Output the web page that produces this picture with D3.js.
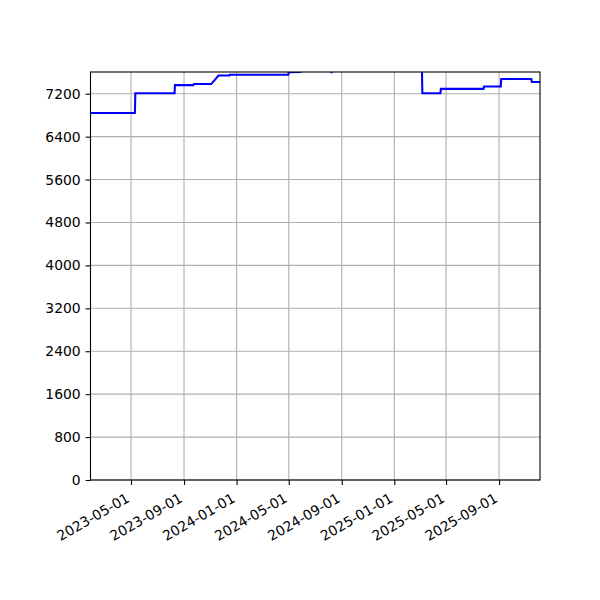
<!DOCTYPE html>
<html>
<head>
<meta charset="utf-8">
<script src="https://cdn.jsdelivr.net/npm/d3@7"></script>
<style>
  body { margin: 0; background: #fff; }
  text { font-family: "DejaVu Sans", sans-serif; }
</style>
</head>
<body>
<div id="chart"></div>
<script>
// daily series (only the change points)
var dates = ["2023-01-27", "2023-05-10", "2023-05-11", "2023-08-10", "2023-08-11",
  "2023-09-23", "2023-09-24", "2023-11-03", "2023-11-20", "2023-12-15", "2023-12-16",
  "2024-04-30", "2024-05-01", "2024-05-28", "2024-05-31", "2024-08-07", "2024-08-08",
  "2024-08-09", "2025-03-06", "2025-03-07", "2025-04-18", "2025-04-19", "2025-07-27",
  "2025-07-28", "2025-09-05", "2025-09-06", "2025-11-15", "2025-11-16", "2025-12-05"];
var values = [6840, 6840, 7210, 7210, 7360,
  7360, 7380, 7380, 7540, 7540, 7555,
  7555, 7600, 7605, 7700, 7700, 7585,
  7700, 7700, 7210, 7210, 7290, 7290,
  7335, 7335, 7475, 7475, 7418, 7418];
var xTickDates = ["2023-05-01", "2023-09-01", "2024-01-01", "2024-05-01",
  "2024-09-01", "2025-01-01", "2025-05-01", "2025-09-01"];
var yTicks = [0, 800, 1600, 2400, 3200, 4000, 4800, 5600, 6400, 7200];

var parse = d3.timeParse("%Y-%m-%d");
var data = dates.map((d, i) => ({date: parse(d), value: values[i]}));

var W = 600, H = 600;
var margin = {left: 90.5, right: 60, top: 72, bottom: 120};

var svg = d3.select("#chart").append("svg")
  .attr("width", W).attr("height", H);

var x = d3.scaleTime()
  .domain([parse("2023-01-27"), parse("2025-12-05")])
  .range([margin.left, W - margin.right]);

var y = d3.scaleLinear()
  .domain([0, 7605])
  .range([H - margin.bottom, margin.top]);

// grid
svg.append("g").selectAll("line")
  .data(xTickDates.map(parse))
  .enter().append("line")
  .attr("x1", d => x(d)).attr("x2", d => x(d))
  .attr("y1", margin.top).attr("y2", H - margin.bottom)
  .attr("stroke", "#b0b0b0").attr("stroke-width", 1.1);

svg.append("g").selectAll("line")
  .data(yTicks)
  .enter().append("line")
  .attr("x1", margin.left).attr("x2", W - margin.right)
  .attr("y1", d => y(d)).attr("y2", d => y(d))
  .attr("stroke", "#b0b0b0").attr("stroke-width", 1.1);

// clip line to plot area
svg.append("clipPath").attr("id", "clip")
  .append("rect")
  .attr("x", margin.left).attr("y", margin.top)
  .attr("width", W - margin.right - margin.left)
  .attr("height", H - margin.bottom - margin.top);

var line = d3.line()
  .x(d => x(d.date))
  .y(d => y(d.value));

svg.append("path")
  .datum(data)
  .attr("clip-path", "url(#clip)")
  .attr("fill", "none")
  .attr("stroke", "#0000ff")
  .attr("stroke-width", 2.08)
  .attr("d", line);

// axes
var xAxis = svg.append("g")
  .attr("transform", "translate(0," + (H - margin.bottom) + ")")
  .call(d3.axisBottom(x).tickValues(xTickDates.map(parse))
    .tickFormat(d3.timeFormat("%Y-%m-%d")).tickSizeOuter(0).tickSize(4.9).tickPadding(4));
xAxis.select(".domain").remove();
xAxis.selectAll("text")
  .attr("font-size", "13.9px")
  .attr("text-anchor", "end")
  .attr("y", 0).attr("dy", 0)
  .attr("transform", "translate(-1,21) rotate(-30)");

var yAxis = svg.append("g")
  .attr("transform", "translate(" + margin.left + ",0)")
  .call(d3.axisLeft(y).tickValues(yTicks).tickFormat(d3.format("d"))
    .tickSizeOuter(0).tickSize(4.9).tickPadding(4.9));
yAxis.select(".domain").remove();
yAxis.selectAll("text").attr("font-size", "13.9px").attr("fill", "#000");
svg.selectAll(".tick line").attr("stroke", "#000").attr("stroke-width", 1.1);
svg.selectAll(".tick text").attr("fill", "#000");

// frame
svg.append("rect")
  .attr("x", margin.left).attr("y", margin.top)
  .attr("width", W - margin.right - margin.left)
  .attr("height", H - margin.bottom - margin.top)
  .attr("fill", "none").attr("stroke", "#000").attr("stroke-width", 1.1);
</script>
</body>
</html>
